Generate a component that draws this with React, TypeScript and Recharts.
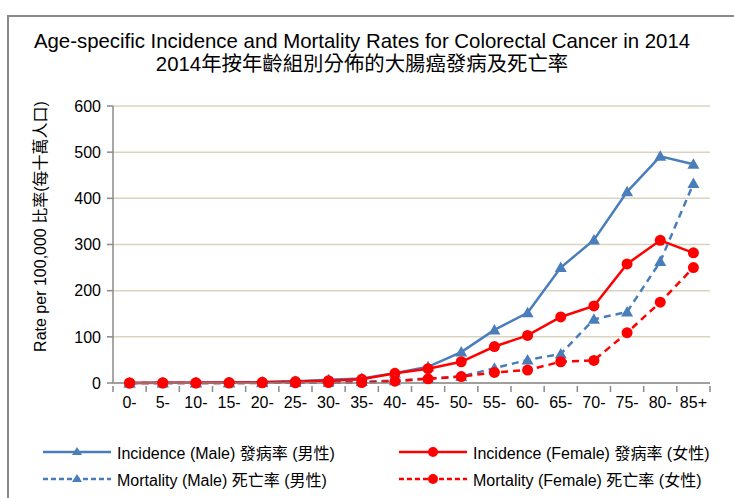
import React from 'react';
import { Line, LineChart, XAxis, YAxis, CartesianGrid } from 'recharts';

const ageGroups = ['0-', '5-', '10-', '15-', '20-', '25-', '30-', '35-', '40-', '45-', '50-', '55-', '60-', '65-', '70-', '75-', '80-', '85+'];
const incidenceMale = [0.2, 0.3, 0.5, 1, 2, 4, 7, 10, 21, 35, 67, 115, 152, 250, 310, 414, 491, 474];
const incidenceFemale = [0.2, 0.3, 0.5, 1, 1.5, 3, 5, 8, 21, 31, 46, 79, 103, 143, 167, 258, 309, 282];
const mortalityMale = [0, 0, 0, 0, 0.5, 1, 1.5, 3, 5, 10, 14, 32, 50, 63, 138, 154, 263, 432];
const mortalityFemale = [0, 0, 0, 0, 0.3, 0.5, 1, 1, 4, 9, 14, 23, 28, 46, 49, 109, 175, 250];
const yTicks = [0, 100, 200, 300, 400, 500, 600];

const BLUE = '#4a7ebb';
const RED = '#ff0000';
const AXIS = '#8a8a8a';
const FONT = '"Liberation Sans", Arial, "Noto Sans CJK TC", sans-serif';

const data = ageGroups.map((age, i) => ({
    age,
    incMale: incidenceMale[i],
    incFemale: incidenceFemale[i],
    mortMale: mortalityMale[i],
    mortFemale: mortalityFemale[i],
}));

const legendItems = [
    { name: 'Incidence (Male) 發病率 (男性)', color: BLUE, dash: undefined, shape: 'tri' },
    { name: 'Incidence (Female) 發病率 (女性)', color: RED, dash: undefined, shape: 'circle' },
    { name: 'Mortality (Male) 死亡率 (男性)', color: BLUE, dash: '5 3', shape: 'tri' },
    { name: 'Mortality (Female) 死亡率 (女性)', color: RED, dash: '5 3', shape: 'circle' },
];

function TriangleDot(props: any) {
    const { cx, cy, fill } = props;
    if (cx == null || cy == null) return null;
    const s = 6;
    return <path d={`M${cx},${cy - s} L${cx + s},${cy + s * 0.75} L${cx - s},${cy + s * 0.75} Z`} fill={fill} />;
}

function CircleDot(props: any) {
    const { cx, cy, fill } = props;
    if (cx == null || cy == null) return null;
    return <circle cx={cx} cy={cy} r={5.5} fill={fill} />;
}

// tick label at band centre, tick mark at the band boundary (Excel style)
function AgeTick(props: any) {
    const { x, y, payload, index, width } = props;
    const half = width / ageGroups.length / 2;
    const last = index === ageGroups.length - 1;
    return (
        <g>
            <line x1={x - half} y1={y - 8} x2={x - half} y2={y - 2} stroke={AXIS} strokeWidth={1.5} />
            {last && <line x1={x + half} y1={y - 8} x2={x + half} y2={y - 2} stroke={AXIS} strokeWidth={1.5} />}
            <text x={x} y={y + 14} textAnchor="middle" fontSize={16} fill="#000" fontFamily={FONT}>
                {payload.value}
            </text>
        </g>
    );
}

function YLabel(props: any) {
    const { viewBox } = props;
    const cy = viewBox.y + viewBox.height / 2 - 18;
    return (
        <text x={46} y={cy} transform={`rotate(-90, 46, ${cy})`} textAnchor="middle" fontSize={16} fill="#000" fontFamily={FONT}>
            Rate per 100,000 比率(每十萬人口)
        </text>
    );
}

function LegendBox() {
    return (
        <div style={{ display: 'grid', gridTemplateColumns: '356px 330px', rowGap: 6, fontFamily: FONT, fontSize: 16, color: '#000' }}>
            {legendItems.map((item) => (
                <div key={item.name} style={{ display: 'flex', alignItems: 'center', height: 21 }}>
                    <svg width={70} height={16} style={{ marginRight: 5 }}>
                        <line x1={1} y1={8} x2={69} y2={8} stroke={item.color} strokeWidth={2.5} strokeDasharray={item.dash} />
                        {item.shape === 'tri' ? (
                            <path d="M35,3 L40,11 L30,11 Z" fill={item.color} />
                        ) : (
                            <circle cx={35} cy={8} r={5} fill={item.color} />
                        )}
                    </svg>
                    <span>{item.name}</span>
                </div>
            ))}
        </div>
    );
}

export default function App() {
    return (
        <div style={{ position: 'fixed', left: 0, top: 0, width: 734, height: 498, overflow: 'hidden', background: '#fff' }}>
            <div style={{ position: 'absolute', left: 7, top: 15, width: 760, height: 520, border: '2px solid #8a8a8a' }} />
            <div style={{ position: 'absolute', left: 0, top: 30, width: 724, textAlign: 'center', fontFamily: FONT, fontSize: 20.4, lineHeight: '23px', color: '#000' }}>
                <div>Age-specific Incidence and Mortality Rates for Colorectal Cancer in 2014</div>
                <div>2014年按年齡組別分佈的大腸癌發病及死亡率</div>
            </div>
            <div style={{ position: 'absolute', left: 0, top: 0 }}>
                <LineChart width={734} height={498} data={data} margin={{ top: 106, right: 24, bottom: 85, left: 13 }}>
                    <CartesianGrid vertical={false} stroke="#d9d4bf" strokeWidth={1.5} />
                    <XAxis
                        dataKey="age"
                        scale="band"
                        interval={0}
                        tickLine={false}
                        axisLine={{ stroke: AXIS, strokeWidth: 1.5 }}
                        tick={<AgeTick />}
                        tickSize={5}
                        tickMargin={6}
                    />
                    <YAxis
                        width={100}
                        domain={[0, 600]}
                        ticks={yTicks}
                        tickLine={{ stroke: AXIS, strokeWidth: 1.5 }}
                        axisLine={{ stroke: AXIS, strokeWidth: 1.5 }}
                        tick={{ fontSize: 16, fill: '#000', fontFamily: FONT }}
                        tickSize={6}
                        tickMargin={6}
                        label={<YLabel />}
                    />
                    <Line dataKey="incMale" name="Incidence (Male)" stroke={BLUE} strokeWidth={2.5} fill={BLUE} dot={<TriangleDot fill={BLUE} />} isAnimationActive={false} />
                    <Line dataKey="incFemale" name="Incidence (Female)" stroke={RED} strokeWidth={2.5} fill={RED} dot={<CircleDot fill={RED} />} isAnimationActive={false} />
                    <Line dataKey="mortMale" name="Mortality (Male)" stroke={BLUE} strokeWidth={2.5} strokeDasharray="7 5" fill={BLUE} dot={<TriangleDot fill={BLUE} />} isAnimationActive={false} />
                    <Line dataKey="mortFemale" name="Mortality (Female)" stroke={RED} strokeWidth={2.5} strokeDasharray="7 5" fill={RED} dot={<CircleDot fill={RED} />} isAnimationActive={false} />
                </LineChart>
            </div>
            <div style={{ position: 'absolute', left: 42, top: 441 }}>
                <LegendBox />
            </div>
        </div>
    );
}
